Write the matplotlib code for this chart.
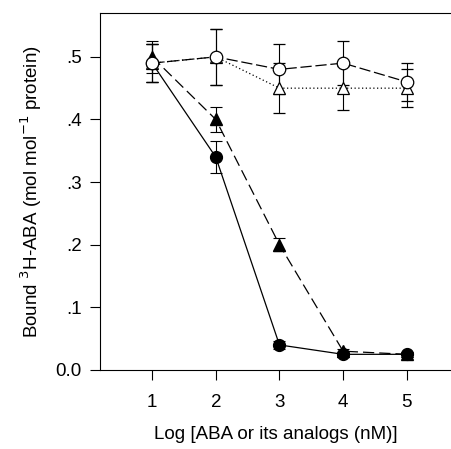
import numpy as np
import matplotlib
matplotlib.use("Agg")
from matplotlib import pyplot as plt

plt.rcParams['font.family'] = ['Liberation Sans', 'DejaVu Sans']

x = [1, 2, 3, 4, 5]

# filled circles, solid line
aba = [0.49, 0.34, 0.04, 0.025, 0.025]
aba_err = [0.03, 0.025, 0.006, 0.004, 0.004]

# filled triangles, dashed line
tri_fill = [0.50, 0.40, 0.20, 0.03, 0.025]
tri_fill_err = [0.025, 0.02, 0.01, 0.004, 0.004]

# open triangles, dotted line
tri_open = [0.49, 0.50, 0.45, 0.45, 0.45]
tri_open_err = [0.03, 0.045, 0.04, 0.035, 0.03]

# open circles, long-dash line
circ_open = [0.49, 0.50, 0.48, 0.49, 0.46]
circ_open_err = [0.03, 0.045, 0.04, 0.035, 0.03]

yticks = [0.0, 0.1, 0.2, 0.3, 0.4, 0.5]
ytick_labels = ["0.0", ".1", ".2", ".3", ".4", ".5"]

fig = plt.figure(figsize=(4.52, 4.49), dpi=100)
ax = fig.add_axes([0.221, 0.176, 0.779, 0.795])

eb = dict(capsize=4.5, elinewidth=0.8, capthick=0.8, color="black")

ax.errorbar(x, tri_open, yerr=tri_open_err, marker="^", ms=8.5, mfc="white",
            mec="black", mew=0.9, linestyle=(0, (1, 2)), lw=0.9, **eb)
ax.errorbar(x, tri_fill, yerr=tri_fill_err, marker="^", ms=8.5, mfc="black",
            mec="black", linestyle=(0, (9, 4)), lw=0.9, **eb)
ax.errorbar(x, aba, yerr=aba_err, marker="o", ms=8.5, mfc="black",
            mec="black", linestyle="-", lw=0.9, **eb)
ax.errorbar(x, circ_open, yerr=circ_open_err, marker="o", ms=9, mfc="white",
            mec="black", mew=0.9, linestyle=(0, (9, 3)), lw=0.9, **eb)

ax.set_xlim(0.18, 5.71)
ax.set_ylim(0, 0.57)
ax.set_xticks(x)
ax.set_yticks(yticks)
ax.set_yticklabels(ytick_labels)
ax.tick_params(axis="both", direction="out", length=7, width=0.8,
               labelsize=13.5, pad=6)
ax.tick_params(axis="x", pad=10)
ax.spines["right"].set_visible(False)
for s in ["left", "bottom", "top"]:
    ax.spines[s].set_linewidth(0.8)

ax.set_xlabel("Log [ABA or its analogs (nM)]", fontsize=13.5, labelpad=11)
ax.set_ylabel(r"Bound $^{3}$H-ABA (mol mol$^{-1}$ protein)", fontsize=13.5,
              labelpad=8)

fig.savefig("out.png", dpi=100)
